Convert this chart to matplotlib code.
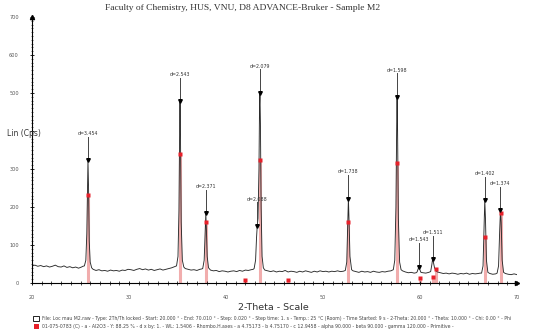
import numpy as np
import matplotlib.pyplot as plt

# background (2-theta, counts)
bg_x = [20.0, 20.3, 20.6, 20.9, 21.2, 21.5, 21.8, 22.1, 22.4, 22.7, 23.0, 23.3, 23.6, 23.9, 24.2, 24.5, 24.8, 25.1, 25.25,
        26.3, 26.6, 26.9, 27.2, 27.5, 27.8, 28.1, 28.4, 28.7, 29.0, 29.3, 29.6, 29.9, 30.2, 30.5, 30.8, 31.1, 31.4, 31.7,
        32.0, 32.3, 32.6, 32.9, 33.2, 33.5, 33.8, 34.1, 34.4, 34.7,
        35.8, 36.1, 36.4, 36.7, 37.0, 37.3, 37.5,
        38.4, 38.7, 39.0, 39.3, 39.6, 39.9, 40.2, 40.5, 40.8, 41.1, 41.4, 41.7, 42.0, 42.3, 42.6, 42.8,
        44.0, 44.3, 44.6, 44.9, 45.2, 45.5, 45.8, 46.1, 46.4, 46.7, 47.0, 47.3, 47.6, 47.9, 48.2, 48.5, 48.8, 49.1, 49.4,
        49.7, 50.0, 50.3, 50.6, 50.9, 51.2, 51.5, 51.8, 52.1,
        53.1, 53.4, 53.7, 54.0, 54.3, 54.6, 54.9, 55.2, 55.5, 55.8, 56.1, 56.4, 56.7, 57.0,
        58.2, 58.5, 58.8, 59.1, 59.4, 59.6,
        60.3, 60.6, 60.9,
        61.8, 62.1, 62.4, 62.7, 63.0, 63.3, 63.6, 63.9, 64.2, 64.5, 64.8, 65.1, 65.4, 65.7, 66.0, 66.2,
        67.2, 67.5, 67.8,
        68.8, 69.1, 69.4, 69.7, 70.0]
bg_y = [45, 47, 44, 46, 43, 45, 42, 44, 47, 43, 42, 45, 41, 43, 40, 42, 39, 42, 44,
        36, 33, 35, 32, 33, 31, 34, 32, 33, 31, 34, 33, 36, 35, 33, 36, 38, 35, 37,
        34, 36, 33, 35, 37, 34, 36, 38, 40, 43,
        38, 36, 34, 35, 33, 36, 37,
        34, 32, 33, 30, 32, 31, 29, 31, 32, 30, 33, 31, 34, 33, 35, 36,
        34, 32, 30, 32, 29, 31, 30, 33, 29, 31, 30, 28, 31, 29, 32, 30, 28, 31, 29,
        32, 30, 31, 29, 31, 30, 32, 30, 31,
        32, 30, 28, 31, 29, 30, 28, 31, 29, 28, 30, 29, 31, 32,
        32, 29, 27, 28, 26, 27,
        27, 26, 28,
        29, 27, 25, 26, 24, 26, 25, 23, 25, 24, 26, 23, 25, 24, 25, 26,
        25, 23, 24,
        25, 23, 22, 24, 22]

# peak profiles
pk_x = [25.40, 25.55, 25.65, 25.72, 25.77, 25.83, 25.90, 26.00, 26.15,
        34.90, 35.05, 35.15, 35.22, 35.26, 35.31, 35.38, 35.50, 35.65,
        37.60, 37.75, 37.85, 37.92, 37.98, 38.06, 38.20,
        42.90, 43.05, 43.15, 43.22, 43.30, 43.40, 43.46, 43.50, 43.55, 43.62, 43.72, 43.85,
        52.30, 52.45, 52.55, 52.62, 52.68, 52.78, 52.95,
        57.25, 57.40, 57.52, 57.60, 57.64, 57.69, 57.77, 57.90, 58.05,
        59.70, 59.82, 59.89, 59.97, 60.10,
        61.10, 61.22, 61.30, 61.38, 61.50, 61.65,
        66.35, 66.50, 66.60, 66.68, 66.75, 66.85, 67.00,
        67.95, 68.10, 68.22, 68.30, 68.37, 68.47, 68.62]
pk_y = [45, 60, 130, 250, 323, 250, 110, 55, 40,
        45, 70, 190, 400, 478, 380, 160, 60, 42,
        38, 60, 130, 183, 140, 70, 40,
        38, 60, 120, 150, 170, 300, 470, 500, 420, 200, 70, 40,
        33, 55, 150, 222, 170, 70, 35,
        35, 60, 200, 420, 490, 400, 170, 55, 35,
        29, 38, 43, 36, 28,
        30, 48, 63, 55, 40, 32,
        26, 45, 140, 218, 170, 60, 28,
        26, 45, 140, 192, 160, 60, 28]

# d-spacing labels
lab_x = [25.77, 35.26, 37.92, 43.22, 43.50, 52.62, 57.64, 59.89, 61.30, 66.68, 68.30]
lab_y = [323, 478, 183, 150, 500, 222, 490, 43, 63, 218, 192]
lab_t = ['d=3.454', 'd=2.543', 'd=2.371', 'd=2.088', 'd=2.079', 'd=1.738',
         'd=1.598', 'd=1.543', 'd=1.511', 'd=1.402', 'd=1.374']

# reference pattern 01-075-0783 sticks
ref_x = [25.77, 35.26, 37.92, 41.95, 43.50, 46.40, 52.62, 57.64, 60.05, 61.30, 61.60, 66.75, 68.40]
ref_y = [231, 339, 160, 8, 325, 8, 160, 315, 13, 16, 38, 120, 183]

title = 'Faculty of Chemistry, HUS, VNU, D8 ADVANCE-Bruker - Sample M2'
leg1 = ('File: Loc mau M2.raw - Type: 2Th/Th locked - Start: 20.000 \u00b0 - End: 70.010 \u00b0 - '
        'Step: 0.020 \u00b0 - Step time: 1. s - Temp.: 25 \u00b0C (Room) - Time Started: 9 s - '
        '2-Theta: 20.000 \u00b0 - Theta: 10.000 \u00b0 - Chi: 0.00 \u00b0 - Phi')
leg2 = ('01-075-0783 (C) - a - Al2O3 - Y: 88.25 % - d x by: 1. - WL: 1.5406 - Rhombo.H.axes - '
        'a 4.75173 - b 4.75170 - c 12.9458 - alpha 90.000 - beta 90.000 - gamma 120.000 - Primitive -')

x = np.array(bg_x + pk_x)
y = np.array(bg_y + pk_y)
order = np.argsort(x)
x, y = x[order], y[order]

fig = plt.figure(figsize=(5.48, 3.32), dpi=100)
ax = fig.add_axes([0.0584, 0.1476, 0.885, 0.801])

# reference sticks
ax.vlines(ref_x, 0, ref_y, color='#e45c5c', alpha=0.5, lw=2.2, zorder=1)
ax.plot(ref_x, ref_y, 's', color='#e8202a', ms=2.5, mec='none', zorder=4)

ax.plot(x, y, color='#2a2a2a', lw=0.65, zorder=2)

for px, py, t in zip(lab_x, lab_y, lab_t):
    ax.plot([px, px], [py, py + 62], color='#444444', lw=0.7, zorder=3)
    ax.plot(px, py, 'v', color='black', ms=2.6, zorder=5)
    ax.text(px, py + 64, t, fontsize=3.4, ha='center', va='bottom', color='#333333')

ax.set_xlim(20, 70)
ax.set_ylim(0, 700)
for s in ['top', 'right']:
    ax.spines[s].set_visible(False)
for s in ['left', 'bottom']:
    ax.spines[s].set_linewidth(0.8)
ax.plot(1, 0, '>', color='black', ms=3, transform=ax.transAxes, clip_on=False)
ax.plot(0, 1, '^', color='black', ms=3, transform=ax.transAxes, clip_on=False)

ax.set_xticks([20, 30, 40, 50, 60, 70])
ax.set_xticks(np.arange(20, 71, 1), minor=True)
ax.set_yticks([0, 100, 200, 300, 400, 500, 600, 700])
ax.set_yticklabels(['0', '100', '200', '300', '', '500', '600', '700'])
ax.set_yticks(np.arange(0, 701, 10), minor=True)
ax.tick_params(axis='both', which='major', labelsize=3.6, labelcolor='#555555', length=3, width=0.6,
               direction='inout')
ax.tick_params(axis='x', which='minor', length=3, width=0.5, direction='inout')
ax.tick_params(axis='y', which='minor', length=1.5, width=0.4, direction='inout')
ax.tick_params(axis='x', which='major', pad=7)
ax.tick_params(axis='y', which='major', pad=8)

fig.text(0.443, 0.976, title, fontsize=6.8, family='Liberation Serif', ha='center', va='center',
         color='#333333')
fig.text(0.012, 1 - 133 / 332, 'Lin (Cps)', fontsize=5.5, ha='left', va='center', color='#333333')
fig.text(273 / 548, 1 - 307 / 332, '2-Theta - Scale', fontsize=6.8, ha='center', va='center',
         color='#333333')

# legend rows
fig.patches.append(plt.Rectangle((33 / 548, 1 - 321 / 332), 6 / 548, 5 / 332, transform=fig.transFigure,
                                 fill=False, ec='black', lw=0.6))
fig.patches.append(plt.Rectangle((34 / 548, 1 - 329 / 332), 5 / 548, 5 / 332, transform=fig.transFigure,
                                 fc='#e8202a', ec='none'))
fig.text(42 / 548, 1 - 318.5 / 332, leg1, fontsize=3.3, ha='left', va='center', color='#444444')
fig.text(42 / 548, 1 - 326.5 / 332, leg2, fontsize=3.3, ha='left', va='center', color='#444444')

fig.savefig('out.png', dpi=100)
